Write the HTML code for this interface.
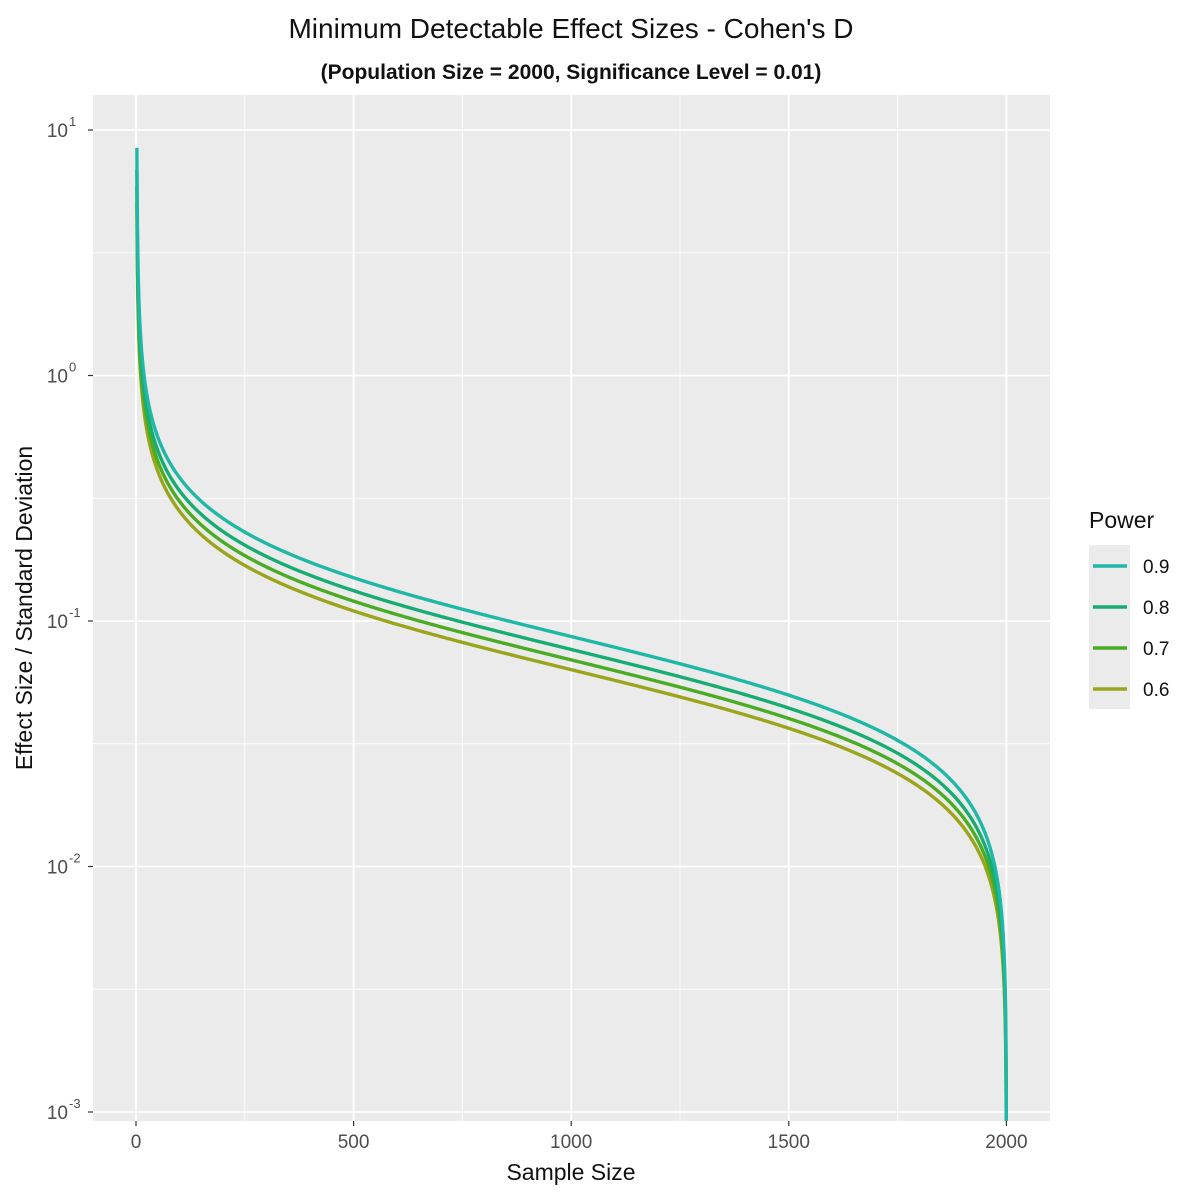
<!DOCTYPE html>
<html><head><meta charset="utf-8"><style>
html,body{margin:0;padding:0;background:#fff;width:1200px;height:1200px;overflow:hidden}
svg{display:block;font-family:"Liberation Sans",Arial,sans-serif}
</style></head><body>
<svg id="s" width="1200" height="1200" viewBox="0 0 1200 1200">
<rect width="1200" height="1200" fill="#fff"/>
<text x="571" y="38" font-size="28" text-anchor="middle" fill="#111">Minimum Detectable Effect Sizes - Cohen's D</text>
<text x="571" y="79" font-size="21" font-weight="bold" text-anchor="middle" fill="#111">(Population Size = 2000, Significance Level = 0.01)</text>
<rect x="93" y="95" width="957" height="1026" fill="#ebebeb"/>
<g id="grid"></g>
<defs><clipPath id="cp"><rect x="93" y="95" width="957" height="1026"/></clipPath></defs>
<g id="curves" clip-path="url(#cp)"></g>
<g id="ticks" fill="#4d4d4d" font-size="19"></g>
<text x="571" y="1180" font-size="23" text-anchor="middle" fill="#111">Sample Size</text>
<text transform="translate(32,608) rotate(-90)" font-size="23" text-anchor="middle" fill="#111">Effect Size / Standard Deviation</text>
<text x="1089" y="528" font-size="23" fill="#111">Power</text>
<g id="leg"></g>
</svg>
<script>
var NS="http://www.w3.org/2000/svg";
function el(p,t,a,txt){var e=document.createElementNS(NS,t);for(var k in a)e.setAttribute(k,a[k]);if(txt!==undefined)e.textContent=txt;p.appendChild(e);return e;}
function X(n){return 136+n*0.4352;}
var y0=130,dec=245.5;
function Y(v){return y0-(Math.log10(v)-1)*dec;}
var g=document.getElementById('grid'),tk=document.getElementById('ticks');
for(var i=0;i<4;i++){var yy=y0+dec*(i+0.5);el(g,'line',{x1:93,x2:1050,y1:yy,y2:yy,stroke:'#fff','stroke-width':0.8});}
[250,750,1250,1750].forEach(function(n){el(g,'line',{x1:X(n),x2:X(n),y1:95,y2:1121,stroke:'#fff','stroke-width':0.8});});
for(var i=0;i<5;i++){var yy=y0+dec*i;el(g,'line',{x1:93,x2:1050,y1:yy,y2:yy,stroke:'#fff','stroke-width':1.8});
 el(tk,'line',{x1:88,x2:93,y1:yy,y2:yy,stroke:'#333','stroke-width':1.2});
 el(tk,'text',{x:68,y:yy+7,'text-anchor':'end'},'10');
 var e=1-i; el(tk,'text',{x:69,y:yy-4,'font-size':13},e===0?'0':(e>0?String(e):'-'+(-e)));}
[0,500,1000,1500,2000].forEach(function(n){el(g,'line',{x1:X(n),x2:X(n),y1:95,y2:1121,stroke:'#fff','stroke-width':1.8});
 el(tk,'line',{x1:X(n),x2:X(n),y1:1121,y2:1126,stroke:'#333','stroke-width':1.2});
 el(tk,'text',{x:X(n),y:1148,'text-anchor':'middle'},String(n));});
var cs=[[3.858,'#1fb8a6'],[3.418,'#17ad72'],[3.1,'#4aac22'],[2.829,'#9aa51c']];
var cv=document.getElementById('curves');
for(var j=cs.length-1;j>=0;j--){var k=cs[j][0],d='';
 for(var n=2;n<=1999.9;n+=(n<40?0.25:(n>1960?0.05:2))){
  var v=k*Math.sqrt(1/n-1/2000)*(1+2.1/(n-1)*(k/3.858));
  d+=(d?'L':'M')+X(n).toFixed(2)+','+Y(v).toFixed(2);}
 d+='L'+X(2000).toFixed(2)+',1200';
 el(cv,'path',{d:d,fill:'none',stroke:cs[j][1],'stroke-width':3.4});}
var lg=document.getElementById('leg');
el(lg,'rect',{x:1089,y:545,width:41,height:164,fill:'#ebebeb'});
['0.9','0.8','0.7','0.6'].forEach(function(l,i){var yy=566+i*41;
 el(lg,'line',{x1:1093,x2:1127,y1:yy,y2:yy,stroke:cs[i][1],'stroke-width':3.4});
 el(lg,'text',{x:1143,y:yy+7,'font-size':19,fill:'#111'},l);});
</script>
</body></html>
